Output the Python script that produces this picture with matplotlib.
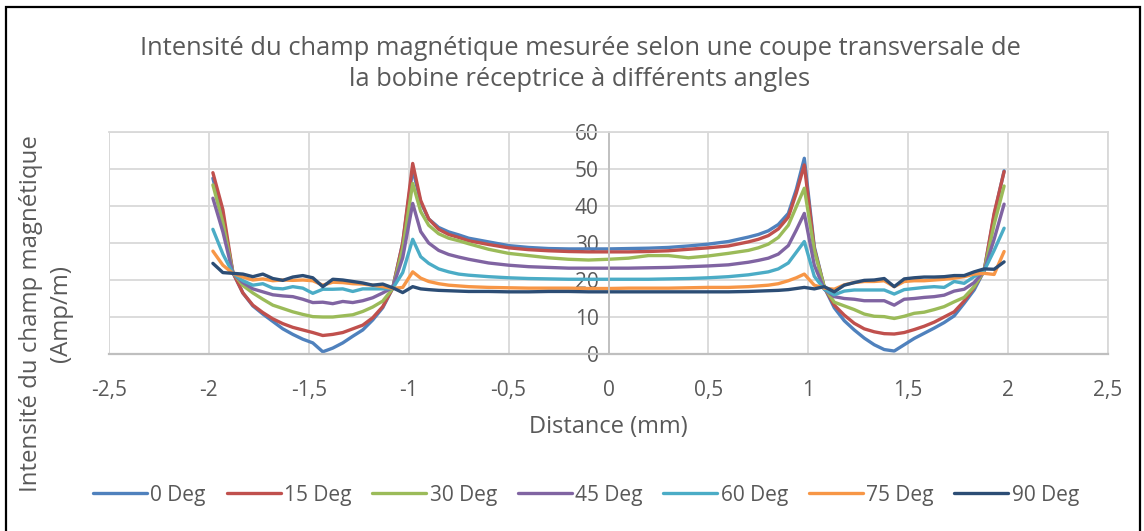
import matplotlib
matplotlib.use("Agg")
import matplotlib.pyplot as plt
from matplotlib.patches import Rectangle

plt.rcParams['font.family'] = ['Open Sans', 'DejaVu Sans']

# Measurement positions across the coil section (mm)
distance = [
    -1.98, -1.93, -1.88, -1.83, -1.78, -1.73, -1.68, -1.63, -1.58, -1.53, -1.48,
    -1.43, -1.38, -1.33, -1.28, -1.23, -1.18, -1.13, -1.08, -1.03, -0.98,
    -0.94, -0.90, -0.85, -0.80, -0.75, -0.70, -0.60, -0.50, -0.40, -0.30, -0.20,
    -0.10, 0.00, 0.10, 0.20, 0.30, 0.40, 0.50, 0.60, 0.70, 0.75, 0.80, 0.85,
    0.90, 0.94,
    0.98, 1.03, 1.08, 1.13, 1.18, 1.23, 1.28, 1.33, 1.38, 1.43, 1.48,
    1.53, 1.58, 1.63, 1.68, 1.73, 1.78, 1.83, 1.88, 1.93, 1.98,
]

deg_0 = [
    47.5, 37.0, 22.0, 16.5, 13.0, 10.8, 8.8, 6.8, 5.3, 4.0, 3.0,
    0.6, 1.6, 3.0, 4.8, 6.5, 9.2, 12.5, 17.8, 30.0, 50.0,
    41.0, 36.5, 34.2, 33.0, 32.2, 31.3, 30.3, 29.3, 28.8, 28.5, 28.4,
    28.4, 28.4, 28.5, 28.6, 28.8, 29.2, 29.7, 30.4, 31.6, 32.3, 33.3, 35.0,
    38.0, 44.5,
    52.9, 29.0, 18.0, 12.5, 9.0, 6.5, 4.3, 2.5, 1.2, 0.8, 2.5,
    4.2, 5.6, 7.0, 8.5, 10.3, 13.7, 17.3, 22.5, 37.5, 49.5,
]

deg_15 = [
    49.0, 39.0, 22.0, 16.5, 13.2, 11.2, 9.5, 8.2, 7.2, 6.5, 5.8,
    5.0, 5.3, 5.8, 6.8, 7.8, 9.8, 12.8, 17.8, 30.0, 51.5,
    41.5, 36.5, 33.7, 32.3, 31.5, 30.6, 29.6, 28.7, 28.2, 27.9, 27.7,
    27.6, 27.6, 27.6, 27.7, 27.9, 28.3, 28.7, 29.2, 30.3, 31.0, 32.0, 33.8,
    37.0, 43.5,
    51.1, 28.5, 18.0, 13.2, 10.5, 8.3, 6.8, 6.0, 5.5, 5.4, 5.8,
    6.6, 7.5, 8.6, 10.0, 11.4, 14.3, 18.0, 22.5, 38.0, 49.3,
]

deg_30 = [
    45.7, 35.5, 22.0, 18.5, 16.5, 14.8, 13.2, 12.3, 11.4, 10.7, 10.1,
    10.0, 10.0, 10.3, 10.6, 11.5, 12.7, 14.3, 17.7, 28.5, 46.1,
    38.5, 34.8, 32.5, 31.3, 30.6, 29.8, 28.3, 27.2, 26.6, 26.0, 25.6,
    25.4, 25.6, 25.9, 26.6, 26.6, 26.0, 26.5, 27.2, 28.0, 28.7, 29.7, 31.5,
    34.8, 39.8,
    44.8, 28.0, 18.0, 14.0, 13.0, 12.0, 10.8, 10.2, 10.1, 9.6, 10.2,
    11.0, 11.3, 12.0, 12.8, 14.1, 15.3, 18.2, 22.5, 35.0, 45.4,
]

deg_45 = [
    42.1, 33.0, 21.8, 19.3, 17.6, 16.8, 16.0, 15.7, 15.5, 14.8, 13.9,
    14.0, 13.6, 14.2, 13.9, 14.4, 15.2, 16.5, 18.0, 26.0, 40.7,
    33.1, 30.0, 28.0, 26.9, 26.2, 25.6, 24.6, 24.0, 23.6, 23.4, 23.2,
    23.2, 23.2, 23.2, 23.3, 23.4, 23.6, 23.8, 24.1, 24.8, 25.3, 25.9, 27.0,
    29.3, 33.5,
    38.0, 24.0, 17.5, 15.5, 15.0, 14.8, 14.4, 14.4, 14.4, 13.2, 14.8,
    15.0, 15.3, 15.5, 15.9, 17.0, 17.5, 19.3, 22.5, 31.0, 40.5,
]

deg_60 = [
    33.7, 27.0, 21.8, 19.8, 18.6, 19.0, 17.8, 17.6, 18.2, 17.8, 16.4,
    17.5, 17.5, 17.6, 16.9, 17.6, 17.6, 17.6, 17.7, 22.0, 31.0,
    26.3, 24.5, 23.0, 22.2, 21.6, 21.3, 20.9, 20.6, 20.4, 20.3, 20.2,
    20.2, 20.2, 20.2, 20.2, 20.3, 20.4, 20.6, 20.9, 21.4, 21.8, 22.2, 23.0,
    24.6, 27.5,
    30.4, 21.0, 17.5, 16.0, 17.0, 17.3, 17.3, 17.3, 17.3, 16.2, 17.4,
    17.7, 18.0, 18.2, 18.0, 19.6, 19.1, 20.9, 22.5, 28.0, 34.0,
]

deg_75 = [
    27.8, 24.0, 21.8, 20.8, 20.0, 20.3, 19.8, 20.0, 19.9, 20.0, 19.8,
    18.6, 19.4, 19.3, 19.0, 18.9, 18.6, 18.2, 17.7, 18.0, 22.2,
    20.5, 19.6, 19.0, 18.6, 18.4, 18.2, 18.0, 17.9, 17.8, 17.8, 17.8,
    17.7, 17.7, 17.8, 17.8, 17.8, 17.9, 18.0, 18.0, 18.2, 18.4, 18.6, 19.0,
    19.8, 20.6,
    21.6, 18.6, 17.8, 17.5, 18.7, 19.3, 19.6, 19.6, 19.8, 18.2, 19.6,
    19.8, 19.8, 20.0, 20.2, 20.5, 20.9, 21.6, 21.8, 21.5, 27.7,
]

deg_90 = [
    24.5, 22.0, 21.8, 21.6, 20.9, 21.6, 20.4, 19.9, 20.8, 21.2, 20.6,
    18.2, 20.2, 20.0, 19.6, 19.2, 18.6, 18.9, 17.9, 16.6, 18.2,
    17.6, 17.4, 17.2, 17.1, 17.0, 16.9, 16.9, 16.8, 16.8, 16.9, 16.9,
    16.8, 16.8, 16.8, 16.8, 16.8, 16.8, 16.8, 16.8, 16.9, 17.0, 17.1, 17.2,
    17.4, 17.7,
    18.0, 17.6, 18.2, 16.8, 18.6, 19.3, 19.9, 20.0, 20.4, 18.2, 20.3,
    20.6, 20.8, 20.8, 20.9, 21.2, 21.2, 22.2, 23.0, 22.9, 24.9,
]

series_labels = ['0 Deg', '15 Deg', '30 Deg', '45 Deg', '60 Deg', '75 Deg', '90 Deg']
series_values = [deg_0, deg_15, deg_30, deg_45, deg_60, deg_75, deg_90]
series_colors = ['#4F81BD', '#C0504D', '#9BBB59', '#8064A2', '#4BACC6', '#F79646', '#2C4D75']

x_ticks = [-2.5, -2.0, -1.5, -1.0, -0.5, 0.0, 0.5, 1.0, 1.5, 2.0, 2.5]
x_tick_labels = ['-2,5', '-2', '-1,5', '-1', '-0,5', '0', '0,5', '1', '1,5', '2', '2,5']
y_ticks = [0, 10, 20, 30, 40, 50, 60]

TEXT = '#595959'
GRID = '#D9D9D9'

fig = plt.figure(figsize=(11.44, 5.31), dpi=100)
ax = fig.add_axes([109 / 1144, 177 / 531, 999 / 1144, 222 / 531])

for label, values, color in zip(series_labels, series_values, series_colors):
    ax.plot(distance, values, color=color, lw=2.4, label=label,
            solid_joinstyle='round', solid_capstyle='round')

ax.set_xlim(-2.5, 2.5)
ax.set_ylim(0, 60)
ax.set_xticks(x_ticks)
ax.set_xticklabels(x_tick_labels)
ax.set_yticks(y_ticks)

ax.grid(True, color=GRID, lw=1.3)
ax.set_axisbelow(True)

for side in ['top', 'right']:
    ax.spines[side].set_color(GRID)
    ax.spines[side].set_linewidth(1.3)
ax.spines['left'].set_position(('data', 0))
ax.spines['left'].set_color('#BFBFBF')
ax.spines['left'].set_linewidth(1.3)
ax.spines['bottom'].set_color('#BFBFBF')
ax.spines['bottom'].set_linewidth(1.6)

ax.tick_params(axis='both', length=0, colors=TEXT, labelsize=15)
ax.tick_params(axis='y', pad=7)
ax.tick_params(axis='x', pad=19)

# extra gridline along the left edge of the plot area
ax.axvline(-2.5, color=GRID, lw=1.3, zorder=0)

ax.set_xlabel('Distance (mm)', fontsize=17, color=TEXT, labelpad=10)

fig.text(46 / 1144, 1 - 314 / 531, 'Intensité du champ magnétique\n(Amp/m)',
         rotation=90, ha='center', va='center', fontsize=17.3, color=TEXT,
         linespacing=1.3)

fig.text(580 / 1144, 1 - 64 / 531,
         'Intensité du champ magnétique mesurée selon une coupe transversale de\n'
         'la bobine réceptrice à différents angles',
         ha='center', va='center', fontsize=18.4, color=TEXT, linespacing=1.3)

fig.legend(loc='center', bbox_to_anchor=(586 / 1144, 1 - 495 / 531), ncol=7,
           frameon=False, fontsize=15, handlelength=2.6, handletextpad=0.15,
           columnspacing=1.0, labelcolor=TEXT)

# outer chart frame
fig.patches.append(Rectangle((6 / 1144, -0.02), 1134 / 1144, 1 - 7 / 531 + 0.02,
                             transform=fig.transFigure, fill=False,
                             edgecolor='black', lw=1.6))

fig.savefig('out.png', dpi=100)
